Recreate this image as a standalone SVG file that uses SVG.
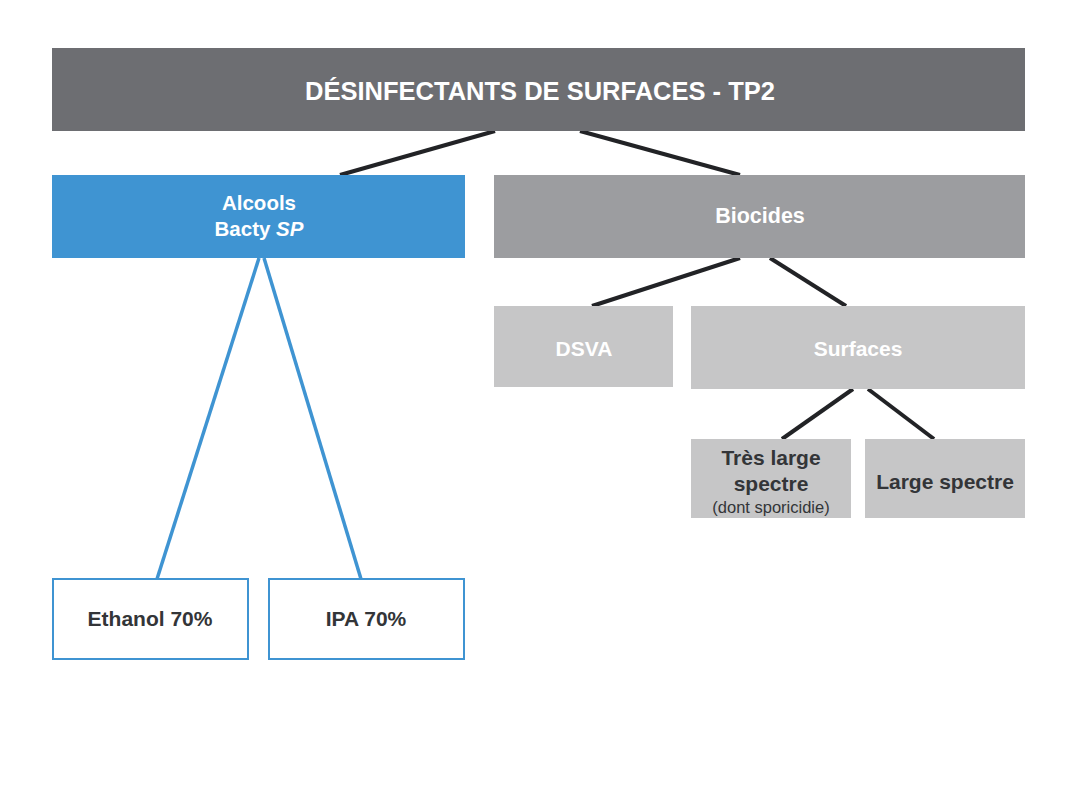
<svg xmlns="http://www.w3.org/2000/svg" width="1065" height="805" viewBox="0 0 1065 805">
<style>
text{font-family:"Liberation Sans","DejaVu Sans",sans-serif;font-weight:bold;text-anchor:middle}
.w{fill:#ffffff}
.d{fill:#333538}
.n{font-weight:normal}
.k{stroke:#222326;stroke-width:4;fill:none}
.b{stroke:#3f94d2;stroke-width:3.5;fill:none}
</style>
<rect width="1065" height="805" fill="#ffffff"/>
<g id="connectors">
<line class="k" x1="495" y1="131" x2="340" y2="175"/>
<line class="k" x1="580" y1="131" x2="740" y2="175"/>
<line class="k" x1="740" y1="258" x2="592" y2="306"/>
<line class="k" x1="770" y1="258" x2="846" y2="306"/>
<line class="k" x1="853" y1="389" x2="782" y2="439"/>
<line class="k" x1="868" y1="389" x2="934" y2="439"/>
<line class="b" x1="259" y1="258" x2="157" y2="579"/>
<line class="b" x1="264" y1="258" x2="361" y2="579"/>
</g>
<g id="title">
<rect x="52" y="48" width="973" height="83" fill="#6d6e72"/>
<text class="w" x="540" y="100" font-size="25.5">DÉSINFECTANTS DE SURFACES - TP2</text>
</g>
<g id="alcools">
<rect x="52" y="175" width="413" height="83" fill="#3f94d2"/>
<text class="w" x="259" y="210" font-size="20.5">Alcools</text>
<text class="w" x="259" y="236" font-size="20.5">Bacty <tspan font-style="italic">SP</tspan></text>
</g>
<g id="biocides">
<rect x="494" y="175" width="531" height="83" fill="#9c9da0"/>
<text class="w" x="760" y="223" font-size="21.5">Biocides</text>
</g>
<g id="dsva">
<rect x="494" y="306" width="179" height="81" fill="#c6c6c7"/>
<text class="w" x="584" y="356" font-size="21">DSVA</text>
</g>
<g id="surfaces">
<rect x="691" y="306" width="334" height="83" fill="#c6c6c7"/>
<text class="w" x="858" y="356" font-size="21">Surfaces</text>
</g>
<g id="tres-large">
<rect x="691" y="439" width="160" height="79" fill="#c6c6c7"/>
<text class="d" x="771" y="465" font-size="21">Très large</text>
<text class="d" x="771" y="491" font-size="21">spectre</text>
<text class="d n" x="771" y="513" font-size="16.5">(dont sporicidie)</text>
</g>
<g id="large">
<rect x="865" y="439" width="160" height="79" fill="#c6c6c7"/>
<text class="d" x="945" y="489" font-size="21">Large spectre</text>
</g>
<g id="ethanol">
<rect x="53" y="579" width="195" height="80" fill="#ffffff" stroke="#3f94d2" stroke-width="2"/>
<text class="d" x="150" y="626" font-size="21">Ethanol 70%</text>
</g>
<g id="ipa">
<rect x="269" y="579" width="195" height="80" fill="#ffffff" stroke="#3f94d2" stroke-width="2"/>
<text class="d" x="366" y="626" font-size="21">IPA 70%</text>
</g>
</svg>
